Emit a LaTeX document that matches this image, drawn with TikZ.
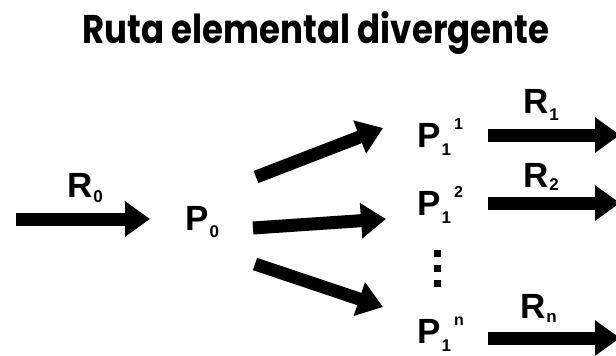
\documentclass[tikz,border=0pt]{standalone}
\usepackage{fontspec}
\setmainfont{Liberation Sans}
\newfontfamily\titlefont{Poppins}
\usetikzlibrary{arrows.meta}

\newcommand{\lo}[2][-7pt]{\hspace{1pt}\raisebox{#1}{\fontsize{17}{17}\selectfont #2}}
\newcommand{\hi}[1]{\hspace{3pt}\raisebox{18pt}{\fontsize{16}{16}\selectfont #1}}

\begin{document}
\begin{tikzpicture}[x=1pt,y=-1pt,
    lbl/.style={anchor=base west,inner sep=0pt,font=\bfseries\fontsize{35}{35}\selectfont},
    big/.style={line width=13pt,-{Triangle[length=25pt,width=34pt]}}]
    \useasboundingbox (0,0) rectangle (616,356);
    \node (title) [anchor=base,inner sep=0pt,font=\titlefont\bfseries\fontsize{40}{40}\selectfont] at (316,43) {\scalebox{0.85}[1]{Ruta elemental divergente}};

    % entrada
    \node (r0) [lbl] at (67,197) {R\lo[-5pt]{0}};
    \node (p0) [lbl] at (185,230) {P\lo{0}};
    \coordinate (in) at (16,219);
    \coordinate (inend) at (150,219);
    \draw [big] (in) -- (inend);

    % ramas
    \node (p11) [lbl] at (417,147) {P\lo[-8pt]{1}\hi{1}};
    \node (p12) [lbl] at (417,215) {P\lo[-8pt]{1}\hi{2}};
    \node (p1n) [lbl] at (417,343) {P\lo[-8pt]{1}\hi{n}};
    \foreach \y in {253,268,283}
        \fill (433.5,\y-3.5) rectangle ++(7,7);

    \coordinate (up) at (256,177);
    \coordinate (upend) at (383,128);
    \coordinate (mid) at (253,228);
    \coordinate (midend) at (386,219);
    \coordinate (down) at (255,264);
    \coordinate (downend) at (383,307);
    \draw [big] (up) -- (upend);
    \draw [big] (mid) -- (midend);
    \draw [big] (down) -- (downend);

    % salidas
    \node (r1) [lbl] at (523,113) {R\lo{1}};
    \node (r2) [lbl] at (523,187) {R\lo[-3pt]{2}};
    \node (rn) [lbl] at (520,318) {R\lo[-4pt]{n}};
    \coordinate (o1) at (488,135);
    \coordinate (o1end) at (620,135);
    \coordinate (o2) at (488,203);
    \coordinate (o2end) at (620,203);
    \coordinate (on) at (488,338);
    \coordinate (onend) at (620,338);
    \draw [big] (o1) -- (o1end);
    \draw [big] (o2) -- (o2end);
    \draw [big] (on) -- (onend);
\end{tikzpicture}
\end{document}
